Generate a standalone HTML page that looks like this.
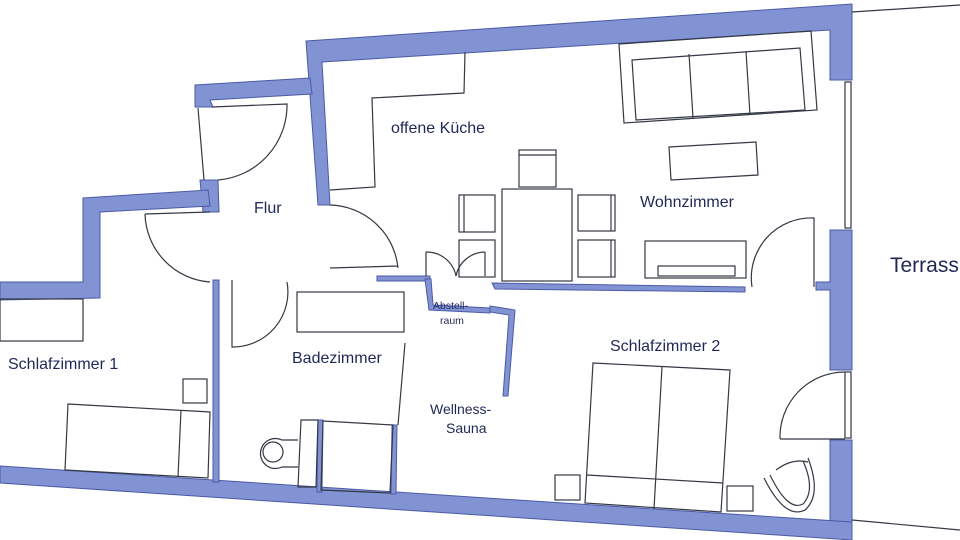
<!DOCTYPE html>
<html><head><meta charset="utf-8"><style>
html,body{margin:0;padding:0;background:#fff;width:960px;height:540px;overflow:hidden}
svg{display:block}
text{font-family:"Liberation Sans","DejaVu Sans",sans-serif;fill:#1f2757}
</style></head><body>
<svg width="960" height="540" viewBox="0 0 960 540" xmlns="http://www.w3.org/2000/svg">
<g fill="#8293d4" stroke="#4b5aa6" stroke-width="1">
<polygon points="306,41 852,4 852,80 830,80 830,30 322,62 330,205 318,205"/>
<polygon points="195,85 310,78 312,94 210,100 213,107 195,107"/>
<polygon points="200,180 218,180 219,212 203,212"/>
<polygon points="83,198 208,190 210,206 100,212 100,298 0,300 0,282 83,282"/>
<polygon points="830,230 852,230 852,370 830,370 830,290 816,290 816,282 830,282"/>
<polygon points="830,440 852,440 852,540 830,538"/>
<polygon points="0,466 852,522 852,540 0,483"/>
<polygon points="213,280 219,280 219,482 213,482"/>
<polygon points="377,276 430,276 430,281 377,281"/>
<polygon points="425,279 431,279 433,305 490,308 490,313 429,310"/>
<polygon points="490,306 515,310 508,396 503,396 509,315 490,312"/>
<polygon points="492,283 745,287 745,292 495,289"/>
<polygon points="318,420 323,420 322,492 317,492"/>
<polygon points="392,425 397,425 396,494 391,494"/>
</g>
<g fill="none" stroke="#333844" stroke-width="1.2">
<line x1="852" y1="12" x2="960" y2="5"/>
<line x1="852" y1="520" x2="960" y2="530"/>
<rect x="845" y="82" width="6" height="146"/>
<rect x="845" y="372" width="6" height="66"/>
<line x1="198" y1="108" x2="204" y2="180"/>
<path d="M212,107 L287,104 A75,75 0 0 1 218,180"/>
<path d="M145,214 L210,212 M145,214 A70,70 0 0 0 210,282"/>
<path d="M330,205 A70,70 0 0 1 398,268 M330,268 L398,266"/>
<path d="M232,280 L232,347 A55,55 0 0 0 287,282"/>
<path d="M426,252 L426,276 M426,252 A30,30 0 0 1 456,276 M485,252 L485,276 M485,252 A30,30 0 0 0 456,276"/>
<polyline points="465,52 464,93 372,98 375,187 330,190"/>
<rect x="502" y="189" width="70" height="92"/>
<rect x="519" y="150" width="37" height="37"/>
<line x1="519" y1="155" x2="556" y2="155"/>
<rect x="459" y="195" width="36" height="37"/>
<rect x="459" y="240" width="36" height="37"/>
<rect x="578" y="195" width="37" height="36"/>
<rect x="578" y="240" width="37" height="37"/>
<line x1="611" y1="195" x2="611" y2="231"/><line x1="611" y1="240" x2="611" y2="277"/>
<line x1="464" y1="195" x2="464" y2="232"/>
<polygon points="619,44 811,31 817,110 624,123"/>
<polygon points="632,60 800,48 805,110 636,120"/>
<line x1="689" y1="54" x2="693" y2="118"/><line x1="746" y1="51" x2="750" y2="115"/>
<polygon points="669,147 756,142 758,175 671,180"/>
<rect x="645" y="241" width="101" height="37"/>
<rect x="658" y="266" width="77" height="10"/>
<path d="M814,287 L814,218 A60,60 0 0 0 752,287"/>
<path d="M780,439 L845,439 M845,372 A65,65 0 0 0 780,439"/>
<polygon points="593,363 730,370 721,512 585,503"/>
<line x1="662" y1="367" x2="654" y2="509"/>
<line x1="587" y1="475" x2="723" y2="483"/>
<rect x="555" y="475" width="25" height="25"/>
<rect x="727" y="486" width="26" height="25"/>
<path d="M764,478 Q785,520 805,510 Q822,495 808,458 M770,475 Q788,512 803,504 Q816,490 803,461"/>
<path d="M776,470 Q792,458 808,462"/>
<rect x="297" y="292" width="107" height="40"/>
<line x1="405" y1="343" x2="398" y2="425"/>
<polygon points="301,420 318,420 316,487 298,487"/>
<polygon points="323,421 393,425 390,493 321,490"/>
<path d="M298,440 L282,440 A15,15 0 1 0 282,467 L298,467"/>
<circle cx="273" cy="452" r="10"/>
<rect x="0" y="299" width="83" height="42"/>
<rect x="183" y="379" width="24" height="24"/>
<polygon points="68,404 210,412 208,478 65,470"/>
<line x1="181" y1="410" x2="178" y2="477"/>
</g>
<g>
<text x="391" y="133" font-size="16">offene Küche</text>
<text x="254" y="213" font-size="16">Flur</text>
<text x="640" y="207" font-size="16">Wohnzimmer</text>
<text x="890" y="272" font-size="21">Terrass</text>
<text x="8" y="369" font-size="16">Schlafzimmer 1</text>
<text x="292" y="363" font-size="16">Badezimmer</text>
<text x="610" y="351" font-size="16">Schlafzimmer 2</text>
<text x="430" y="414" font-size="14">Wellness-</text>
<text x="446" y="433" font-size="14">Sauna</text>
<text x="433" y="309" font-size="10.5">Abstell-</text>
<text x="440" y="324" font-size="10.5">raum</text>
</g>
</svg>
</body></html>
